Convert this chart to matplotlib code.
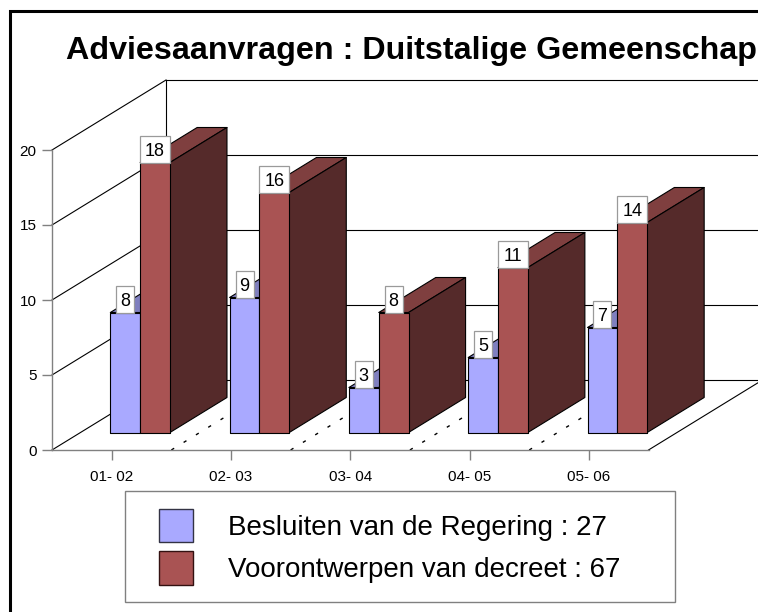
import matplotlib
matplotlib.use("Agg")
import matplotlib.pyplot as plt
from matplotlib.patches import Polygon, Rectangle, Patch
from matplotlib.lines import Line2D

plt.rcParams['font.family'] = ['Liberation Sans', 'DejaVu Sans']

title = "Adviesaanvragen : Duitstalige Gemeenschap"
categories = ["01- 02", "02- 03", "03- 04", "04- 05", "05- 06"]
besluiten = [8, 9, 3, 5, 7]
voorontwerpen = [18, 16, 8, 11, 14]
legend_labels = ["Besluiten van de Regering : 27", "Voorontwerpen van decreet : 67"]
y_ticks = [0, 5, 10, 15, 20]

W, H = 758, 612
PX_X, PX_Y = 119.3, 15.0          # pixels per category / per value unit
DEPTH_X = 114 / PX_X              # full-depth shift in x data units
DEPTH_Y = 70 / PX_Y               # full-depth shift in y data units
BLUE = ('#A9A9FF', '#7F7FBF', '#55557F')
RED = ('#A95353', '#7F3F3F', '#552A2A')

fig = plt.figure(figsize=(W / 100, H / 100), dpi=100, facecolor='white')
ax = fig.add_axes([52 / W, (H - 450) / H, 5 * PX_X / W, 20 * PX_Y / H])
ax.set_xlim(0, 5)
ax.set_ylim(0, 20)
ax.patch.set_visible(False)


def p(x, v, d=0.0):
    return (x + d * DEPTH_X, v + d * DEPTH_Y)


def line(a, b, **kw):
    kw.setdefault('color', 'black')
    kw.setdefault('lw', 0.8)
    ax.add_line(Line2D([a[0], b[0]], [a[1], b[1]], clip_on=False, zorder=1, **kw))


# walls and floor
for v in y_ticks:
    line(p(0, v), p(0, v, 1))
    line(p(0, v, 1), p(5, v, 1))
line(p(0, 0, 1), p(0, 20, 1))
line(p(5, 0), p(5, 0, 1))
for i in range(1, 5):
    line(p(i, 0), p(i, 0, 1), linestyle=(0, (2.4, 8)), lw=1.0)


def bar(x0, x1, v, colors, z):
    d0, d1 = 0.25, 0.75
    kw = dict(closed=True, edgecolor='black', lw=0.8, clip_on=False, zorder=z, joinstyle='round')
    ax.add_patch(Polygon([p(x0, v, d0), p(x1, v, d0), p(x1, v, d1), p(x0, v, d1)], facecolor=colors[1], **kw))
    ax.add_patch(Polygon([p(x1, 0, d0), p(x1, 0, d1), p(x1, v, d1), p(x1, v, d0)], facecolor=colors[2], **kw))
    ax.add_patch(Polygon([p(x0, 0, d0), p(x1, 0, d0), p(x1, v, d0), p(x0, v, d0)], facecolor=colors[0], **kw))


def value_label(xc, v, z):
    txt = str(v)
    w = (18 if len(txt) == 1 else 30) / PX_X
    h = 26.5 / PX_Y
    x, y = p(xc, v, 0.25)
    ax.add_patch(Rectangle((x - w / 2, y), w, h, facecolor='white', edgecolor='#9a9a9a',
                           lw=0.9, clip_on=False, zorder=z))
    ax.text(x, y + h / 2 - 0.13, txt, ha='center', va='center', fontsize=13, color='black', zorder=z + 0.1)


for i in range(len(categories)):
    z = 3 + i
    bar(i + 0.25, i + 0.5, besluiten[i], BLUE, z)
    bar(i + 0.5, i + 0.75, voorontwerpen[i], RED, z + 0.2)
    value_label(i + 0.375, besluiten[i], z + 0.4)
    value_label(i + 0.625, voorontwerpen[i], z + 0.6)

# axes
for s in ('top', 'right'):
    ax.spines[s].set_visible(False)
for s in ('left', 'bottom'):
    ax.spines[s].set_color('#808080')
    ax.spines[s].set_linewidth(1.0)
ax.set_xticks([i + 0.5 for i in range(len(categories))], categories)
ax.set_yticks(y_ticks)
ax.tick_params(axis='x', length=7, width=1, color='#808080', pad=7.5, labelsize=11)
ax.tick_params(axis='y', length=7.2, width=1, color='#808080', pad=4, labelsize=11)

# title
fig.text(66 / W, 1 - 50.5 / H, title, fontsize=23.2, fontweight='bold', ha='left', va='center', color='black')

# legend
fig.add_artist(Rectangle((125 / W, 1 - 602 / H), 550 / W, 111 / H, transform=fig.transFigure,
                         facecolor='white', edgecolor='#808080', lw=1, zorder=1.5))
handles = [Patch(facecolor=BLUE[0], edgecolor='#333344', lw=1),
           Patch(facecolor=RED[0], edgecolor='#331111', lw=1)]
leg = fig.legend(handles, legend_labels, loc='upper left', bbox_to_anchor=(158.5 / W, 1 - 508.5 / H),
                 frameon=False, fontsize=20, handlelength=1.24, handleheight=1.5,
                 handletextpad=1.26, labelspacing=0.3, borderpad=0, borderaxespad=0)
leg.set_zorder(2)

# outer frame
fig.add_artist(Line2D([9.5 / W, 9.5 / W, 1], [0, 1 - 10.5 / H, 1 - 10.5 / H], transform=fig.transFigure,
                      color='black', lw=2.2, solid_joinstyle='miter'))

fig.savefig('out.png', dpi=100, facecolor='white')
